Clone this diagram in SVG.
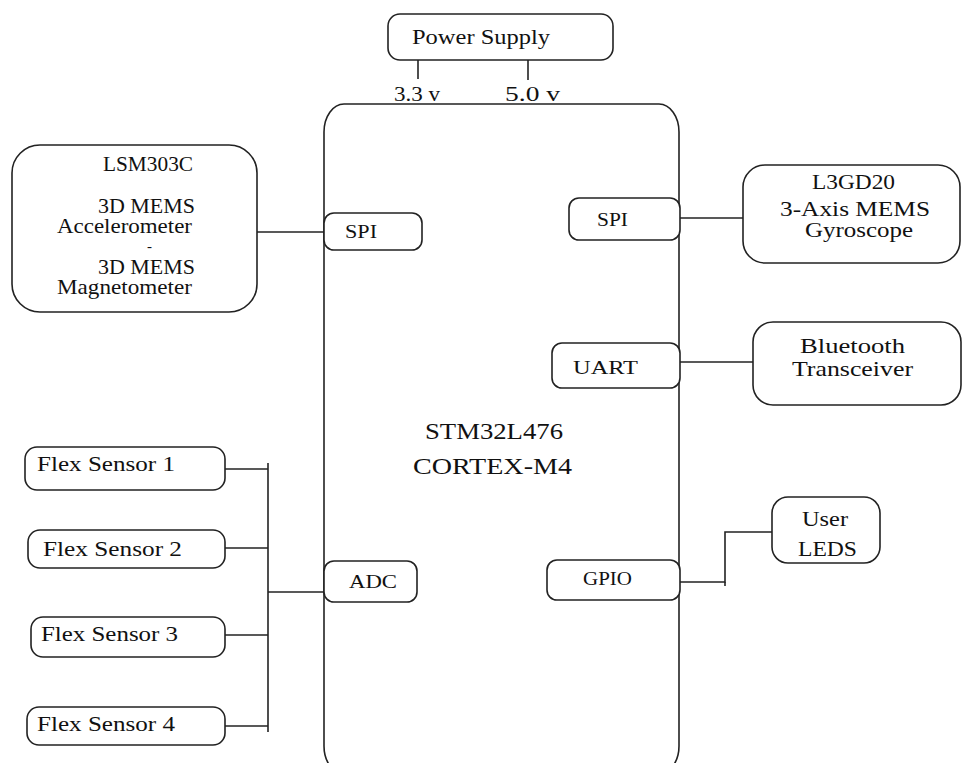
<svg xmlns="http://www.w3.org/2000/svg" width="963" height="763" viewBox="0 0 963 763">
<style>
.b{fill:#fff;stroke:#222;stroke-width:1.6}
.w{fill:none;stroke:#222;stroke-width:1.6}
text{font-family:"Liberation Serif","Times New Roman",serif;fill:#111;font-size:21px}
.s{font-size:18px}
.l{font-size:23px}
</style>
<rect width="963" height="763" fill="#fff"/>
<g id="connectors">
<line class="w" x1="418" y1="60" x2="418" y2="79"/>
<line class="w" x1="528" y1="60" x2="528" y2="80"/>
<line class="w" x1="257" y1="232" x2="324" y2="232"/>
<line class="w" x1="680" y1="218" x2="743" y2="218"/>
<line class="w" x1="680" y1="362" x2="753" y2="362"/>
<polyline class="w" points="680,582 725,582 725,532 772,532"/>
<line class="w" x1="725" y1="582" x2="725" y2="586"/>
<line class="w" x1="225" y1="469" x2="268" y2="469"/>
<line class="w" x1="225" y1="548" x2="268" y2="548"/>
<line class="w" x1="225" y1="635" x2="268" y2="635"/>
<line class="w" x1="225" y1="726" x2="268" y2="726"/>
<line class="w" x1="268" y1="463" x2="268" y2="732"/>
<line class="w" x1="268" y1="592" x2="324" y2="592"/>
</g>
<g id="main">
<rect class="b" x="324" y="104" width="355" height="670" rx="20" ry="28"/>
<text class="l" x="425" y="439" textLength="138" lengthAdjust="spacingAndGlyphs">STM32L476</text>
<text class="l" x="413" y="474" textLength="159" lengthAdjust="spacingAndGlyphs">CORTEX-M4</text>
</g>
<g id="power">
<rect class="b" x="388" y="14" width="225" height="46" rx="12"/>
<text x="412" y="44" style="font-size:22px" textLength="138" lengthAdjust="spacingAndGlyphs">Power Supply</text>
</g>
<text x="394" y="101" style="font-size:20px" textLength="46" lengthAdjust="spacingAndGlyphs">3.3 v</text>
<text x="505" y="101" style="font-size:20px" textLength="55" lengthAdjust="spacingAndGlyphs">5.0 v</text>
<g id="lsm">
<rect class="b" x="12" y="145" width="245" height="167" rx="28"/>
<text x="103" y="171" textLength="90" lengthAdjust="spacingAndGlyphs">LSM303C</text>
<text x="98" y="213" textLength="97" lengthAdjust="spacingAndGlyphs">3D MEMS</text>
<text x="57" y="233" textLength="135" lengthAdjust="spacingAndGlyphs">Accelerometer</text>
<text x="147" y="251" style="font-size:15px">-</text>
<text x="98" y="274" textLength="97" lengthAdjust="spacingAndGlyphs">3D MEMS</text>
<text x="57" y="294" textLength="135" lengthAdjust="spacingAndGlyphs">Magnetometer</text>
</g>
<g id="spi-left">
<rect class="b" x="324" y="213" width="98" height="37" rx="10"/>
<text class="s" x="345" y="238" textLength="32" lengthAdjust="spacingAndGlyphs">SPI</text>
</g>
<g id="spi-right">
<rect class="b" x="569" y="198" width="111" height="42" rx="10"/>
<text class="s" x="597" y="226" textLength="31" lengthAdjust="spacingAndGlyphs">SPI</text>
</g>
<g id="gyro">
<rect class="b" x="743" y="165" width="217" height="98" rx="22"/>
<text x="812" y="189" textLength="83" lengthAdjust="spacingAndGlyphs">L3GD20</text>
<text x="780" y="216" textLength="150" lengthAdjust="spacingAndGlyphs">3-Axis MEMS</text>
<text x="805" y="237" textLength="108" lengthAdjust="spacingAndGlyphs">Gyroscope</text>
</g>
<g id="uart">
<rect class="b" x="552" y="343" width="128" height="45" rx="10"/>
<text class="s" x="573" y="374" textLength="65" lengthAdjust="spacingAndGlyphs">UART</text>
</g>
<g id="bluetooth">
<rect class="b" x="753" y="322" width="208" height="83" rx="20"/>
<text x="800" y="353" textLength="105" lengthAdjust="spacingAndGlyphs">Bluetooth</text>
<text x="792" y="376" textLength="121" lengthAdjust="spacingAndGlyphs">Transceiver</text>
</g>
<g id="adc">
<rect class="b" x="324" y="561" width="93" height="41" rx="10"/>
<text class="s" x="349" y="588" textLength="48" lengthAdjust="spacingAndGlyphs">ADC</text>
</g>
<g id="gpio">
<rect class="b" x="547" y="560" width="133" height="40" rx="10"/>
<text class="s" x="583" y="585" textLength="49" lengthAdjust="spacingAndGlyphs">GPIO</text>
</g>
<g id="leds">
<rect class="b" x="772" y="497" width="108" height="66" rx="16"/>
<text x="802" y="526" textLength="46" lengthAdjust="spacingAndGlyphs">User</text>
<text x="798" y="556" textLength="59" lengthAdjust="spacingAndGlyphs">LEDS</text>
</g>
<g id="flex1">
<rect class="b" x="25" y="447" width="200" height="43" rx="12"/>
<text x="37" y="471" textLength="138" lengthAdjust="spacingAndGlyphs">Flex Sensor 1</text>
</g>
<g id="flex2">
<rect class="b" x="28" y="530" width="197" height="38" rx="12"/>
<text x="43" y="556" textLength="139" lengthAdjust="spacingAndGlyphs">Flex Sensor 2</text>
</g>
<g id="flex3">
<rect class="b" x="31" y="617" width="194" height="40" rx="12"/>
<text x="41" y="641" textLength="137" lengthAdjust="spacingAndGlyphs">Flex Sensor 3</text>
</g>
<g id="flex4">
<rect class="b" x="27" y="707" width="198" height="38" rx="12"/>
<text x="37" y="731" textLength="138" lengthAdjust="spacingAndGlyphs">Flex Sensor 4</text>
</g>
</svg>
